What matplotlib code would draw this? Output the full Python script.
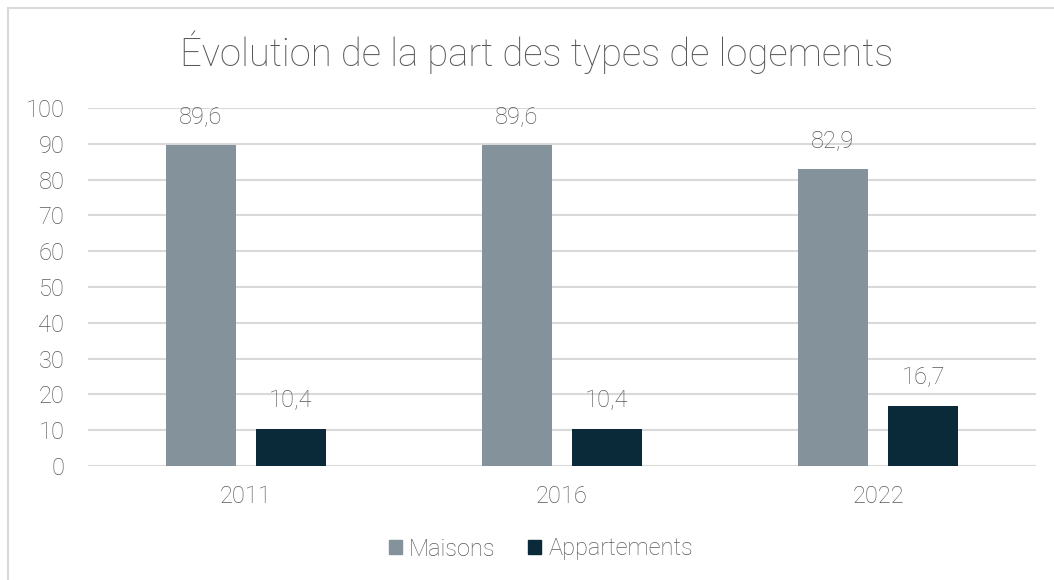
import matplotlib
matplotlib.use("Agg")
import matplotlib.pyplot as plt
from matplotlib.patches import Rectangle, Patch
import numpy as np

years = ["2011", "2016", "2022"]
maisons = [89.6, 89.6, 82.9]
appartements = [10.4, 10.4, 16.7]
labels_m = ["89,6", "89,6", "82,9"]
labels_a = ["10,4", "10,4", "16,7"]
yticks = [0, 10, 20, 30, 40, 50, 60, 70, 80, 90, 100]

plt.rcParams['font.family'] = ['Roboto', 'DejaVu Sans']
TXT = '#595959'
C_M = '#84939b'
C_A = '#0a2a3a'
GRID = '#d9d9d9'
FS = 17
WT = 'light'

W, H = 1054, 580
fig = plt.figure(figsize=(W/100, H/100), dpi=100)

# outer chart border
fig.patches.append(Rectangle((8/W, -0.1), 1.2, 1 - 8/H + 0.1, transform=fig.transFigure,
                             fill=False, edgecolor=GRID, linewidth=1.5))

ax = fig.add_axes([88/W, 1 - 466/H, (1036-88)/W, (466-108)/H])
x = np.arange(len(years))
bw = 70/316
off = 45/316
b1 = ax.bar(x - off, maisons, width=bw, color=C_M, label='Maisons', zorder=3)
b2 = ax.bar(x + off, appartements, width=bw, color=C_A, label='Appartements', zorder=3)

for rect, lab in zip(b1, labels_m):
    ax.annotate(lab, (rect.get_x() + rect.get_width()/2, rect.get_height()),
                xytext=(0, 12), textcoords='offset points', ha='center', va='bottom',
                fontsize=FS, color=TXT, fontweight=WT)
for rect, lab in zip(b2, labels_a):
    ax.annotate(lab, (rect.get_x() + rect.get_width()/2, rect.get_height()),
                xytext=(0, 12), textcoords='offset points', ha='center', va='bottom',
                fontsize=FS, color=TXT, fontweight=WT)

ax.set_xlim(-0.5, len(years) - 0.5)
ax.set_ylim(0, 100)
ax.set_yticks(yticks)
ax.set_yticklabels([str(t) for t in yticks], fontsize=FS, color=TXT, fontweight=WT)
ax.set_xticks(x)
ax.set_xticklabels(years, fontsize=FS, color=TXT, fontweight=WT)
ax.tick_params(axis='both', length=0)
ax.tick_params(axis='y', pad=17)
ax.tick_params(axis='x', pad=14)
ax.grid(axis='y', color=GRID, linewidth=1.5, zorder=0)
for s in ax.spines.values():
    s.set_visible(False)

fig.text(537/W, 1 - 52/H, "Évolution de la part des types de logements", ha='center', va='center',
         fontsize=27.5, color=TXT, fontweight=WT)

handles = [Patch(color=C_M), Patch(color=C_A)]
fig.legend(handles, ['Maisons', 'Appartements'], loc='center', bbox_to_anchor=(541/W, 1 - 549/H),
           ncol=2, frameon=False, labelcolor=TXT, handlelength=0.55, handleheight=0.55,
           handletextpad=0.3, columnspacing=1.4, prop={'weight': WT, 'size': FS})

fig.savefig("out.png", dpi=100)
